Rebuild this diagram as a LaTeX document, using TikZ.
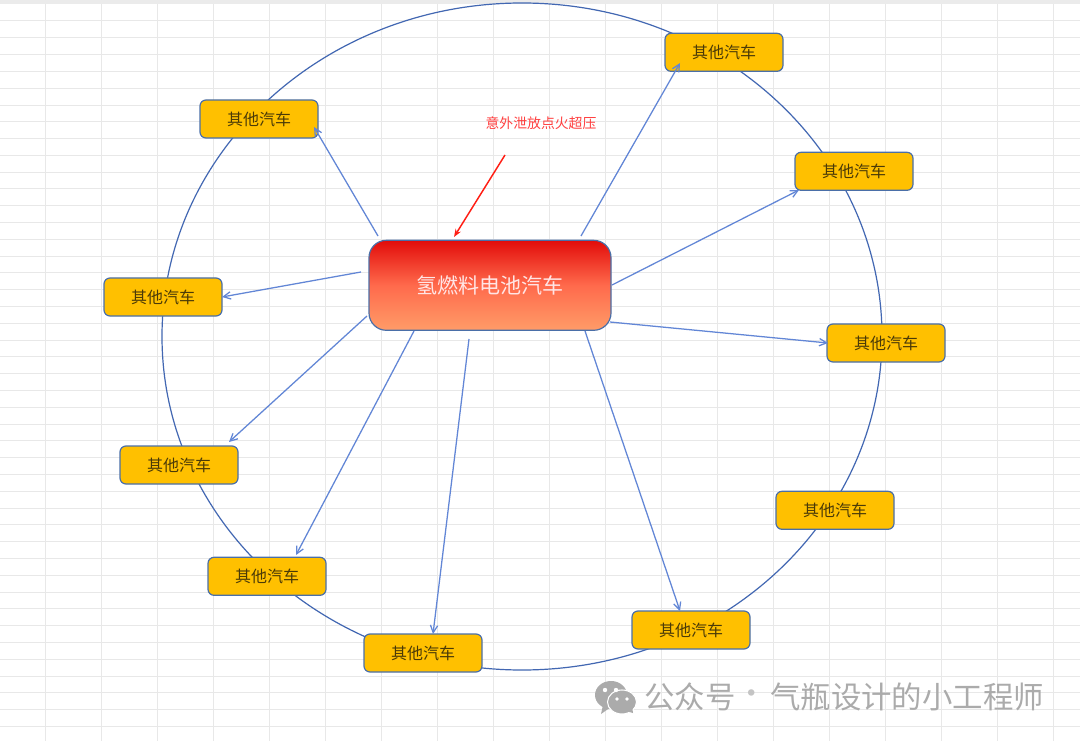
\documentclass[tikz,border=0pt]{standalone}
\usepackage{fontspec}
\setmainfont{Liberation Sans}
\newfontfamily\cjk{Noto Sans CJK SC}
\usetikzlibrary{arrows.meta}
\definecolor{gridc}{HTML}{E8E8E8}
\definecolor{topband}{HTML}{EBEBEB}
\definecolor{edgeb}{HTML}{4A6FA8}
\definecolor{arrowb}{HTML}{6286D6}
\definecolor{ringb}{HTML}{4267B2}
\definecolor{boxy}{HTML}{FFC000}
\definecolor{boxtext}{HTML}{4A3A08}
\definecolor{hired}{HTML}{E20C0A}
\definecolor{midred}{HTML}{FF6A4C}
\definecolor{lored}{HTML}{FF9C68}
\definecolor{wm}{HTML}{ABABAB}
\definecolor{redline}{HTML}{FF1E14}
\tikzset{
  x=0.75pt,y=-0.75pt,
  carbox/.style={draw=edgeb,line width=0.9pt,fill=boxy,rounded corners=4.5pt,minimum width=88.5pt,minimum height=28.5pt,inner sep=0pt,font=\cjk\fontsize{12}{12}\selectfont,text=boxtext},
  mainbox/.style={draw=edgeb,line width=0.9pt,rounded corners=13pt,minimum width=181.5pt,minimum height=67.5pt,inner sep=0pt,top color=hired,bottom color=lored,middle color=midred,font=\cjk\fontsize{15.8}{16}\selectfont,text=white!90!red},
  flow/.style={draw=arrowb,line width=0.95pt,-{Straight Barb[length=5.5pt,width=5.5pt]}},
  redflow/.style={draw=redline,line width=1.1pt,-{Stealth[length=6pt,width=4.5pt]}},
  gridline/.style={draw=gridc,line width=0.7pt},
  wmtext/.style={font=\cjk\fontsize{22.8}{24}\selectfont,text=wm,inner sep=0pt,anchor=west},
}
\begin{document}
\begin{tikzpicture}
\useasboundingbox (0,0) rectangle (1080,741);
\fill[white] (0,0) rectangle (1080,741);
% sheet grid
\foreach \gx in {45,101,157,213,269,325,381,437,493,549,605,661,717,773,829,885,941,997,1053}
  \draw[gridline] (\gx,4) -- (\gx,741);
\foreach \gy in {20,37,54,71,88,105,121,138,155,172,188,205,222,239,256,272,289,306,323,340,356,373,390,407,424,440,457,474,491,508,524,541,558,575,592,608,625,642,659,676,692,709,726}
  \draw[gridline] (0,\gy) -- (1080,\gy);
\fill[topband] (0,0) rectangle (1080,4);
% ring
\draw[ringb,line width=0.9pt] (522,336.5) ellipse [x radius=360,y radius=333.5];
% nodes
\node[mainbox] (main) at (490,285.3) {\raisebox{1.4pt}{氢燃料电池汽车}};
\node[carbox] (c1) at (259,119) {\raisebox{1pt}{其他汽车}};
\node[carbox] (c2) at (724,52.3) {\raisebox{1pt}{其他汽车}};
\node[carbox] (c3) at (854,171.3) {\raisebox{1pt}{其他汽车}};
\node[carbox] (c4) at (886,343) {\raisebox{1pt}{其他汽车}};
\node[carbox] (c5) at (835,510.3) {\raisebox{1pt}{其他汽车}};
\node[carbox] (c6) at (691,630) {\raisebox{1pt}{其他汽车}};
\node[carbox] (c7) at (423,653) {\raisebox{1pt}{其他汽车}};
\node[carbox] (c8) at (267,576.3) {\raisebox{1pt}{其他汽车}};
\node[carbox] (c9) at (179,465) {\raisebox{1pt}{其他汽车}};
\node[carbox] (c10) at (163,297) {\raisebox{1pt}{其他汽车}};
% free ends
\coordinate (s1) at (378,236); \coordinate (e1) at (314,127);
\coordinate (s2) at (581,236); \coordinate (e2) at (680,63);
\coordinate (s3) at (612,285); \coordinate (e3) at (799,190);
\coordinate (s4) at (610,322); \coordinate (e4) at (828,343);
\coordinate (s6) at (585,331); \coordinate (e6) at (680,611);
\coordinate (s7) at (469,339); \coordinate (e7) at (433,634);
\coordinate (s8) at (414,331); \coordinate (e8) at (296,555);
\coordinate (s9) at (367,316); \coordinate (e9) at (229,442);
\coordinate (s10) at (361,272); \coordinate (e10) at (222,297);
\coordinate (rs) at (505,155); \coordinate (re) at (454,237);
\foreach \k in {1,2,3,4,6,7,8,9,10}
  \draw[flow] (s\k) -- (e\k);
\draw[redflow] (rs) -- (re);
\node[font=\cjk\fontsize{10.4}{11}\selectfont,text=red!75!white,inner sep=0pt] (lbl) at (541,123.5) {意外泄放点火超压};
% watermark
\node[wmtext] (wmk1) at (644,697) {公众号};
\node[wmtext,anchor=center,text=wm!70!white] (wmk2) at (752,697) {·};
\node[wmtext] (wmk3) at (770,697) {气瓶设计的小工程师};
\fill[wm] (611,695) ellipse [x radius=16,y radius=14];
\fill[wm] (603,705) -- (601,714) -- (611,707) -- cycle;
\draw[white,line width=0.8pt,fill=wm] (622,702) ellipse [x radius=14.5,y radius=12];
\fill[wm] (626,711) -- (633,713) -- (632,706) -- cycle;
\fill[white] (605,690) circle (2.2) (616,690) circle (2.2) (617,699) circle (1.9) (627,699) circle (1.9);
\end{tikzpicture}
\end{document}
